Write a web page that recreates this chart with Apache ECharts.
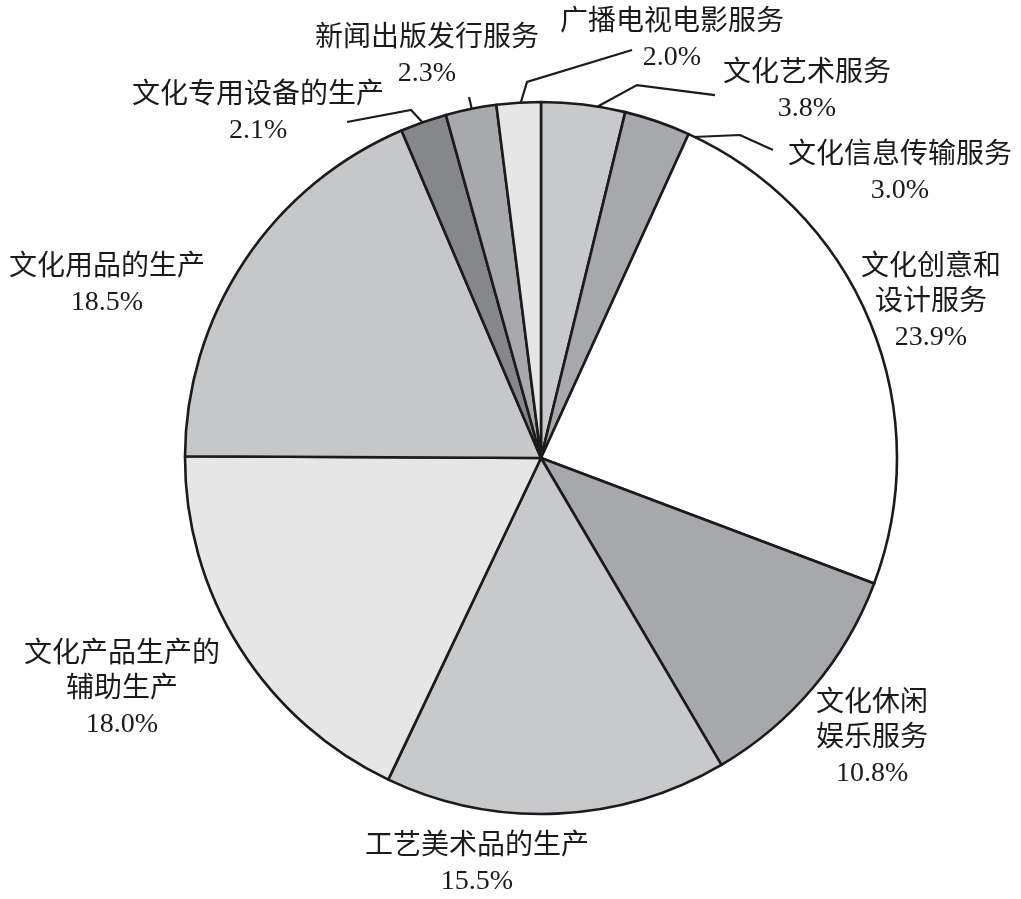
<!DOCTYPE html>
<html>
<head>
<meta charset="utf-8">
<script src="https://cdn.jsdelivr.net/npm/echarts@6/dist/echarts.min.js"></script>
<style>
html,body{margin:0;padding:0;background:#fff;}
#chart{width:1021px;height:899px;}
</style>
</head>
<body>
<div id="chart"></div>
<script>
// ---- data ----
const categories = ['文化艺术服务','文化信息传输服务','文化创意和设计服务','文化休闲娱乐服务','工艺美术品的生产','文化产品生产的辅助生产','文化用品的生产','文化专用设备的生产','新闻出版发行服务','广播电视电影服务'];
const labelTexts = ['文化艺术服务','文化信息传输服务','文化创意和\n设计服务','文化休闲\n娱乐服务','工艺美术品的生产','文化产品生产的\n辅助生产','文化用品的生产','文化专用设备的生产','新闻出版发行服务','广播电视电影服务'];
const shares = [3.8, 3.0, 23.9, 10.8, 15.5, 18.0, 18.5, 2.1, 2.3, 2.0];

// ---- styles ----
const sliceColors = ['#c8c9cb','#a7a8ab','#ffffff','#a7a8ab','#c8c9cb','#e6e6e7','#c6c7c9','#86878a','#a8a9ac','#e6e6e6'];
// label block centre relative to the slice's outer anchor point
const labelOffset = [[223.5,-13.5],[242.5,51.4],[60.9,-19.2],[58.7,51.7],[-79.7,50.9],[-117.6,42.5],[-137.5,24.5],[-165.4,-8.5],[-43.9,-53],[153.4,-62.7]];
// leader line points relative to the slice's outer anchor point (null = no line)
const leaderLines = [
  [[11.5,3.5],[53.5,-19.5],[131.5,-9.5]],
  [[35.5,15.4],[82.5,13.4],[115.5,28.4]],
  null, null, null, null, null,
  [[-0.4,1],[-12.4,-12],[-76.4,0]],
  [[1.1,1],[-1.9,-12]],
  [[1.4,2.3],[8.4,-20.7],[113.4,-52.7]]
];

const ink = '#1c1a1b';
const chart = echarts.init(document.getElementById('chart'));
chart.setOption({
  backgroundColor: '#ffffff',
  animation: false,
  series: [{
    type: 'pie',
    center: [541, 458],
    radius: 356,
    startAngle: 90,
    clockwise: true,
    avoidLabelOverlap: false,
    data: categories.map((c, i) => ({
      name: c,
      value: shares[i],
      itemStyle: { color: sliceColors[i] }
    })),
    itemStyle: { borderColor: ink, borderWidth: 2.6 },
    label: {
      show: true,
      position: 'outside',
      formatter: p => labelTexts[p.dataIndex] + '\n' + p.value.toFixed(1) + '%',
      fontFamily: "'Liberation Serif','Noto Sans CJK SC',serif",
      fontSize: 28,
      lineHeight: 35,
      color: ink
    },
    labelLine: {
      show: true,
      length: 10,
      length2: 10,
      lineStyle: { color: ink, width: 2.2 }
    },
    labelLayout: function (p) {
      const i = p.dataIndex;
      const pts = p.labelLinePoints;
      if (!pts) return {};
      const a = pts[0];
      const o = labelOffset[i];
      const res = { x: a[0] + o[0], y: a[1] + o[1], align: 'center', verticalAlign: 'middle' };
      const ln = leaderLines[i];
      res.labelLinePoints = ln ? ln.map(d => [a[0] + d[0], a[1] + d[1]]) : [a.slice(), a.slice()];
      return res;
    },
    emphasis: { disabled: true }
  }]
});
</script>
</body>
</html>
